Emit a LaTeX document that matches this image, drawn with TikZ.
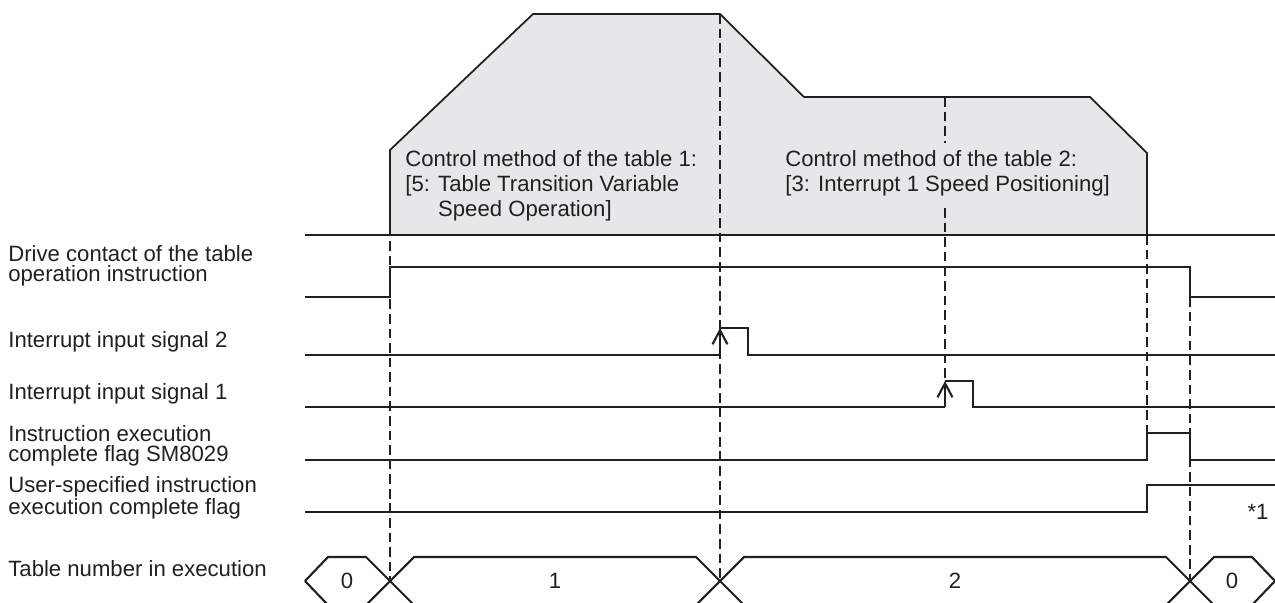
\documentclass[tikz,border=0pt]{standalone}
\usepackage{fontspec}
\setmainfont{Liberation Sans}
\usetikzlibrary{arrows.meta}
\definecolor{ink}{HTML}{231F20}
\definecolor{speedfill}{HTML}{E6E7E8}

\begin{document}
\begin{tikzpicture}[x=0.02cm,y=-0.02cm,
    sig/.style={draw=ink,line width=1.2pt},
    guide/.style={draw=ink,line width=0.9pt,dash pattern=on 5.5pt off 2.8pt},
    trig/.style={sig,-{Straight Barb[length=8pt,width=8.5pt]}},
    lbl/.style={anchor=west,align=left,inner sep=0pt,text=ink,
                font=\fontsize{12.6}{11.3}\selectfont},
    note/.style={anchor=north west,align=left,inner sep=0pt,text=ink,
                 font=\fontsize{12.6}{14.3}\selectfont},
    tnum/.style={inner sep=0pt,text=ink,font=\fontsize{12.6}{14}\selectfont}]
      \useasboundingbox (0,0) rectangle (1275,602);
      \clip (0,0) rectangle (1275,602);
      % speed pattern
      \filldraw[fill=speedfill,draw=ink,line width=1pt]
            (390,235) -- (390,150) -- (533,14) -- (720,14) -- (804,97)
            -- (1090,97) -- (1147,153) -- (1147,235);
      \draw[sig,line width=1.4pt] (305,235) -- (1275,235);
      % guide lines
      \draw[guide] (390,241) -- (390,581);
      \draw[guide] (720,14)  -- (720,581);
      \draw[guide] (945,97)  -- (945,143);
      \draw[guide] (945,208) -- (945,381);
      \draw[guide] (1147,235) -- (1147,433);
      \draw[guide] (1190,297) -- (1190,581);
      % signals
      \draw[sig] (305,297) -- (390,297) -- (390,267) -- (1190,267)
                 -- (1190,297) -- (1275,297);
      \draw[sig] (305,355) -- (720,355);
      \draw[trig] (720,355) -- (720,328);
      \draw[sig] (720,328) -- (748,328) -- (748,355) -- (1275,355);
      \draw[sig] (305,407) -- (945,407);
      \draw[trig] (945,407) -- (945,381);
      \draw[sig] (945,381) -- (973,381) -- (973,407) -- (1275,407);
      \draw[sig] (305,460) -- (1147,460) -- (1147,433) -- (1190,433)
                 -- (1190,460) -- (1275,460);
      \draw[sig] (305,512) -- (1147,512) -- (1147,485) -- (1275,485);
      % table number
      \draw[sig] (305,581) -- (328,557) -- (366,557) -- (414,605) -- (696,605)
                 -- (744,557) -- (1166,557) -- (1214,605) -- (1252,605) -- (1275,581);
      \draw[sig] (305,581) -- (328,605) -- (366,605) -- (414,557) -- (696,557)
                 -- (744,605) -- (1166,605) -- (1214,557) -- (1252,557) -- (1275,581);
      \node[tnum] (n0a) at (347,581)  {0};
      \node[tnum] (n1)  at (555,581)  {1};
      \node[tnum] (n2)  at (955,581)  {2};
      \node[tnum] (n0b) at (1232,581) {0};
      \node[tnum] (fn1) at (1258,512) {*1};
      % notes
      \node[note] (tab1) at (405,150) {Control method of the table 1:\\
            {[}5: Table Transition Variable\\
            \phantom{{[}5: }Speed Operation]};
      \node[note] (tab2) at (785,150) {Control method of the table 2:\\
            {[}3: Interrupt 1 Speed Positioning]};
      % row labels
      \node[lbl] (lbdrv) at (8,266) {Drive contact of the table\\operation instruction};
      \node[lbl] (lbin2) at (8,342) {Interrupt input signal 2};
      \node[lbl] (lbin1) at (8,394) {Interrupt input signal 1};
      \node[lbl] (lbcmp) at (8,446) {Instruction execution\\complete flag SM8029};
      \node[lbl] (lbusr) at (8,498) {User-specified instruction\\execution complete flag};
      \node[lbl] (lbtab) at (8,569) {Table number in execution};
\end{tikzpicture}
\end{document}
